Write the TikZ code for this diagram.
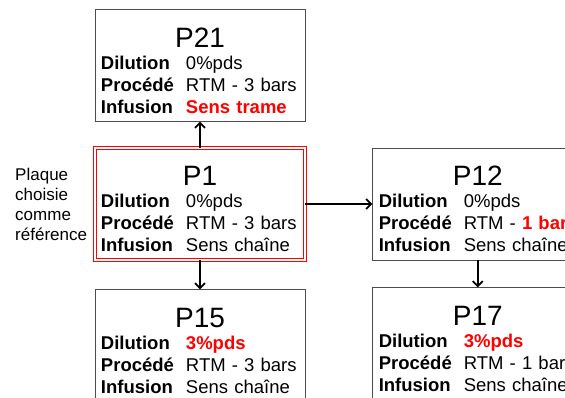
\documentclass[tikz,border=0pt]{standalone}
\usepackage{fontspec}
\setmainfont{Liberation Sans}
\usetikzlibrary{arrows.meta, positioning}
\tikzset{
    plaque/.style={
        draw=gray!60!black,
        line width=0.8pt,
        minimum width=210pt,
        minimum height=112pt,
        text width=198pt,
        inner xsep=6pt,
        inner ysep=0pt,
        align=left,
        font=\fontsize{18.5}{22}\selectfont
    },
    reference/.style={plaque, draw=red, double=white, double distance=2pt},
    fleche/.style={-{Straight Barb[length=5pt,width=10pt]}, line width=1.8pt},
    legende/.style={align=left, font=\fontsize{17}{20}\selectfont}
}
\newcommand{\titre}[1]{{\centering\fontsize{28}{30}\selectfont\rule{0pt}{30pt}#1\par}}
\newcommand{\ligne}[2]{\makebox[85pt][l]{\textbf{#1}}#2\par}
\newcommand{\rouge}[1]{\textcolor{red}{\textbf{#1}}}

\begin{document}
\begin{tikzpicture}
\useasboundingbox (-200pt,-194pt) rectangle (365pt,204pt);
\clip (-200pt,-194pt) rectangle (365pt,204pt);

\node[reference] (p1) at (0,0) {\titre{P1}\ligne{Dilution}{0\%pds}\ligne{Procédé}{RTM - 3 bars}\ligne{Infusion}{Sens chaîne}};
\node[plaque, above=26pt of p1] (p21) {\titre{P21}\ligne{Dilution}{0\%pds}\ligne{Procédé}{RTM - 3 bars}\ligne{Infusion}{\rouge{Sens trame}}};
\node[plaque, right=67pt of p1] (p12) {\titre{P12}\ligne{Dilution}{0\%pds}\ligne{Procédé}{RTM - \rouge{1 bar}}\ligne{Infusion}{Sens chaîne}};
\node[plaque, below=29pt of p1] (p15) {\titre{P15}\ligne{Dilution}{\rouge{3\%pds}}\ligne{Procédé}{RTM - 3 bars}\ligne{Infusion}{Sens chaîne}};
\node[plaque, below=27pt of p12] (p17) {\titre{P17}\ligne{Dilution}{\rouge{3\%pds}}\ligne{Procédé}{RTM - 1 bar}\ligne{Infusion}{Sens chaîne}};

\node[legende, left=4pt of p1] (choix) {Plaque\\choisie\\comme\\référence};

\draw[fleche] (p1) -- (p21);
\draw[fleche] (p1) -- (p12);
\draw[fleche] (p1) -- (p15);
\draw[fleche] (p12) -- (p17);
\end{tikzpicture}
\end{document}
